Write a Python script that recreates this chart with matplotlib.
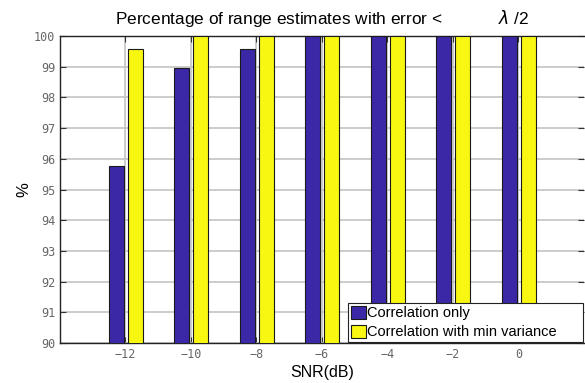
import numpy as np
import matplotlib.pyplot as plt

snr = [-12, -10, -8, -6, -4, -2, 0]
corr_only = [95.77, 98.95, 99.58, 100, 100, 100, 100]
corr_minvar = [99.58, 100, 100, 100, 100, 100, 100]

fig = plt.figure(figsize=(5.85, 3.83), dpi=100)
ax = fig.add_axes([0.1026, 0.1044, 0.8954, 0.8016])

x = np.array(snr, dtype=float)
w = 0.45
ax.bar(x - 0.28, corr_only, w, color='#3a28a6', edgecolor='#1a1a1a', linewidth=0.8,
       label='Correlation only', zorder=3)
ax.bar(x + 0.30, corr_minvar, w, color='#f8f712', edgecolor='#1a1a1a', linewidth=0.8,
       label='Correlation with min variance', zorder=3)

ax.set_xlim(-14, 2)
ax.set_ylim(90, 100)
ax.set_xticks(snr)
ax.set_xticklabels(['\u221212', '\u221210', '\u22128', '\u22126', '\u22124', '\u22122', '0'])
ax.set_yticks(range(90, 101))
ax.grid(True, color='#c4c4c4', linewidth=1.2, zorder=0)
ax.set_axisbelow(True)

for lab in ax.get_xticklabels() + ax.get_yticklabels():
    lab.set_family('DejaVu Sans Mono')
    lab.set_fontsize(8.5)
    lab.set_color('#666666')
ax.tick_params(direction='in', length=4, width=0.8, color='#333333',
               top=True, right=True, pad=3.5)
for s in ['left', 'bottom', 'top']:
    ax.spines[s].set_color('#222222')
    ax.spines[s].set_linewidth(1.0)
ax.spines['right'].set_visible(False)

ax.set_title('Percentage of range estimates with error <            $\\lambda$ /2',
             fontsize=12.4, family='Liberation Sans', pad=9)
ax.set_xlabel('SNR(dB)', fontsize=11.5, family='Liberation Sans', labelpad=3)
ax.set_ylabel('%', fontsize=12, family='Liberation Sans', labelpad=2)

# legend box stretched over the lower right part of the axes
leg = ax.legend(loc='lower left', bbox_to_anchor=(0.549, 0.003, 0.449, 0.134), mode='expand',
                prop={'family': 'Liberation Sans', 'size': 10.5},
                fancybox=False, framealpha=1, edgecolor='#222222',
                handlelength=1.05, handleheight=1.0, handletextpad=0.1,
                borderpad=0.2, labelspacing=0.3, borderaxespad=0)
leg.get_frame().set_linewidth(0.8)

plt.savefig('out.png', dpi=100)
